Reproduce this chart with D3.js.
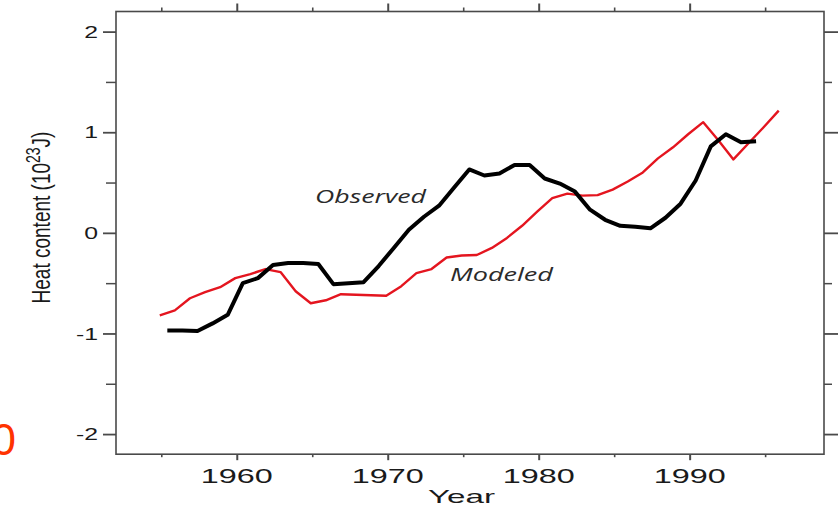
<!DOCTYPE html>
<html>
<head>
<meta charset="utf-8">
<script src="https://cdn.jsdelivr.net/npm/d3@7"></script>
<style>
  html, body { margin: 0; padding: 0; background: #fff; }
  svg { display: block; }
</style>
</head>
<body>
<svg id="chart" width="838" height="506"></svg>
<script>
// Ocean heat content anomaly, observed vs. modeled (10^23 J)
const observedYears = [
  1955.4, 1956.4, 1957.4, 1958.4, 1959.4, 1960.4, 1961.4, 1962.4, 1963.4, 1964.4,
  1965.4, 1966.4, 1967.4, 1968.4, 1969.4, 1970.4, 1971.4, 1972.4, 1973.4, 1974.4,
  1975.4, 1976.4, 1977.4, 1978.4, 1979.4, 1980.4, 1981.4, 1982.4, 1983.4, 1984.4,
  1985.4, 1986.4, 1987.4, 1988.4, 1989.4, 1990.4, 1991.4, 1992.4, 1993.4, 1994.4
];
const observedValues = [
  -0.97, -0.97, -0.975, -0.90, -0.815, -0.50, -0.45, -0.32, -0.30, -0.30,
  -0.31, -0.51, -0.50, -0.49, -0.33, -0.15, 0.03, 0.16, 0.27, 0.45,
  0.63, 0.57, 0.59, 0.675, 0.675, 0.54, 0.49, 0.41, 0.23, 0.13,
  0.07, 0.06, 0.045, 0.15, 0.29, 0.52, 0.86, 0.98, 0.90, 0.91
];

const modeledYears = [
  1954.9, 1955.9, 1956.9, 1957.9, 1958.9, 1959.9, 1960.9, 1961.9, 1962.9, 1963.9,
  1964.9, 1965.9, 1966.9, 1967.9, 1968.9, 1969.9, 1970.9, 1971.9, 1972.9, 1973.9,
  1974.9, 1975.9, 1976.9, 1977.9, 1978.9, 1979.9, 1980.9, 1981.9, 1982.9, 1983.9,
  1984.9, 1985.9, 1986.9, 1987.9, 1988.9, 1989.9, 1990.9, 1991.9, 1992.9, 1993.9,
  1994.9, 1995.9
];
const modeledValues = [
  -0.82, -0.77, -0.65, -0.59, -0.54, -0.45, -0.41, -0.36, -0.39, -0.58,
  -0.70, -0.67, -0.61, -0.615, -0.62, -0.625, -0.53, -0.40, -0.36, -0.245,
  -0.225, -0.22, -0.15, -0.05, 0.07, 0.21, 0.345, 0.39, 0.37, 0.375,
  0.43, 0.51, 0.60, 0.74, 0.85, 0.98, 1.10, 0.92, 0.73, 0.89,
  1.05, 1.215
];

const yearTicks = [1960, 1970, 1980, 1990];
const yearMinorTicks = [1955, 1965, 1975, 1985, 1995];
const valueTicks = [-2, -1, 0, 1, 2];
const valueMinorTicks = [-1.5, -0.5, 0.5, 1.5];

const svg = d3.select("#chart");
const FONT = "'Liberation Sans', Arial, Helvetica, sans-serif";
const AXIS_COLOR = "#4a4a4a";

const x = d3.scaleLinear().domain([1952, 1998.9]).range([116, 824]);
const y = d3.scaleLinear().domain([-2.2, 2.2]).range([454.2, 11.5]);
const [L, R] = x.range();
const [B, T] = y.range();

// Axis ticks (labels drawn separately)
function tickAxis(axisFn, scale, values, size, pos, width) {
  const g = svg.append("g")
    .attr("transform", pos)
    .call(axisFn(scale).tickValues(values).tickSize(size).tickFormat(""));
  g.select(".domain").remove();
  g.selectAll("line").attr("stroke", AXIS_COLOR).attr("stroke-width", width);
  return g;
}
tickAxis(d3.axisLeft, y, valueTicks, 13, `translate(${L},0)`, 1.8);
tickAxis(d3.axisLeft, y, valueMinorTicks, 10, `translate(${L},0)`, 1.5);
tickAxis(d3.axisRight, y, valueTicks, 15, `translate(${R},0)`, 1.8);
tickAxis(d3.axisRight, y, valueMinorTicks, 8, `translate(${R},0)`, 1.5);
tickAxis(d3.axisTop, x, yearTicks, 8, `translate(0,${T})`, 2);
tickAxis(d3.axisTop, x, yearMinorTicks, 4, `translate(0,${T})`, 1.6);
tickAxis(d3.axisBottom, x, yearTicks, 6, `translate(0,${B})`, 2);
tickAxis(d3.axisBottom, x, yearMinorTicks, 3, `translate(0,${B})`, 1.6);

// Frame
svg.append("rect")
  .attr("x", L).attr("y", T)
  .attr("width", R - L).attr("height", B - T)
  .attr("fill", "none")
  .attr("stroke", AXIS_COLOR)
  .attr("stroke-width", 1.6);

// Value labels
svg.append("g").selectAll("text")
  .data(valueTicks)
  .join("text")
  .attr("transform", d => `translate(98,${y(d) + 6.2}) scale(1.55,1)`)
  .attr("text-anchor", "end")
  .attr("font-family", FONT)
  .attr("font-size", 16)
  .attr("fill", "#1a1a1a")
  .text(d => d);

// Year labels
svg.append("g").selectAll("text")
  .data(yearTicks)
  .join("text")
  .attr("x", d => x(d) - 36)
  .attr("y", 483.3)
  .attr("textLength", 72)
  .attr("lengthAdjust", "spacingAndGlyphs")
  .attr("font-family", FONT)
  .attr("font-size", 21)
  .attr("fill", "#1a1a1a")
  .text(d => d);

svg.append("text")
  .attr("x", 428).attr("y", 503)
  .attr("textLength", 67)
  .attr("lengthAdjust", "spacingAndGlyphs")
  .attr("font-family", FONT)
  .attr("font-size", 19)
  .attr("fill", "#1a1a1a")
  .text("Year");

// Vertical axis title
const yTitle = svg.append("text")
  .attr("transform", "translate(50,217.5) scale(1.4,1) rotate(-90)")
  .attr("text-anchor", "middle")
  .attr("font-family", FONT)
  .attr("font-size", 19)
  .attr("fill", "#1a1a1a");
yTitle.append("tspan").text("Heat content (10");
yTitle.append("tspan").attr("font-size", 14).attr("dy", -7).text("23");
yTitle.append("tspan").attr("dy", 7).text("J)");

// Series
const line = d3.line()
  .x(d => x(d[0]))
  .y(d => y(d[1]));

svg.append("path")
  .datum(d3.zip(modeledYears, modeledValues))
  .attr("d", line)
  .attr("fill", "none")
  .attr("stroke", "#e4151f")
  .attr("stroke-width", 2.4)
  .attr("stroke-linejoin", "round");

svg.append("path")
  .datum(d3.zip(observedYears, observedValues))
  .attr("d", line)
  .attr("fill", "none")
  .attr("stroke", "#000")
  .attr("stroke-width", 4)
  .attr("stroke-linejoin", "round");

// Series labels
const seriesLabel = (txt, x0, y0, w) => svg.append("text")
  .attr("x", x0).attr("y", y0)
  .attr("textLength", w)
  .attr("lengthAdjust", "spacingAndGlyphs")
  .attr("font-family", "'Open Sans', 'Noto Sans', sans-serif")
  .attr("font-style", "italic")
  .attr("font-size", 17.5)
  .attr("fill", "#2a2a2a")
  .text(txt);
seriesLabel("Observed", 315, 203, 111);
seriesLabel("Modeled", 450, 281, 103);

// Stray glyph at the left margin
svg.append("text")
  .attr("x", 16).attr("y", 454.5)
  .attr("text-anchor", "end")
  .attr("font-family", FONT)
  .attr("font-size", 44)
  .attr("fill", "#ff3300")
  .text("0");
</script>
</body>
</html>
